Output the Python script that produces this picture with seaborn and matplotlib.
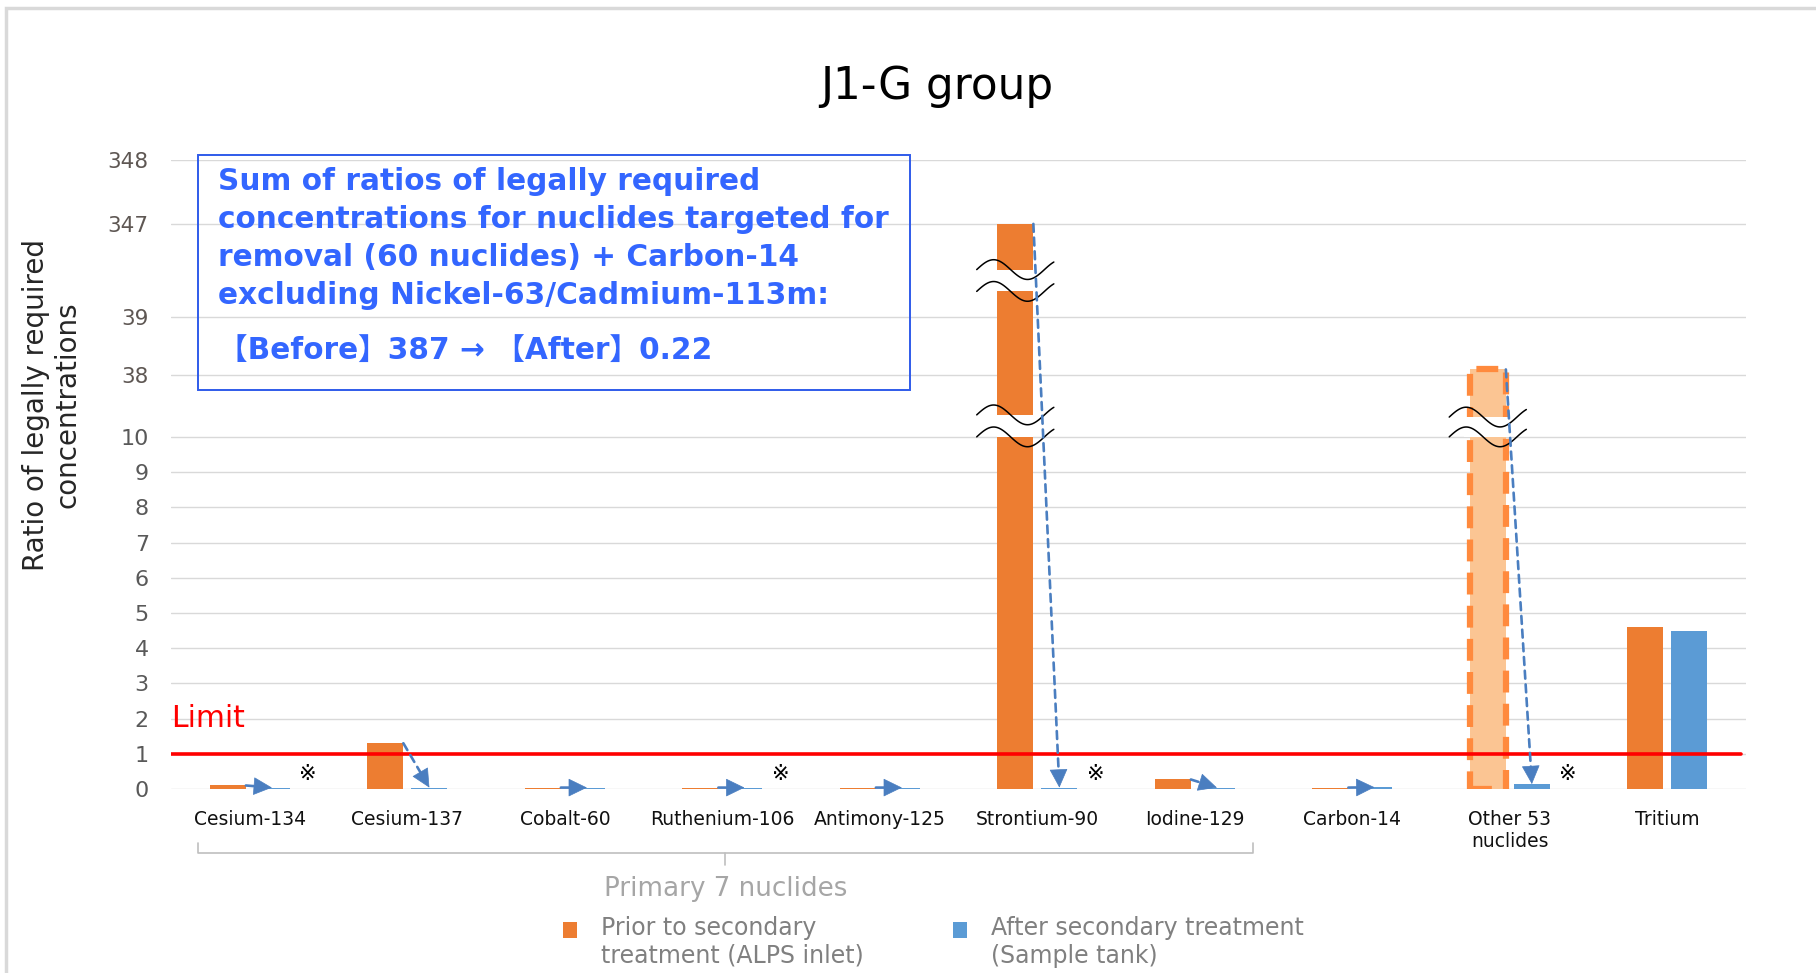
import numpy as np
import pandas as pd
import matplotlib
matplotlib.use('Agg')
import matplotlib.pyplot as plt
from matplotlib.patches import Rectangle
import seaborn as sns

nuclides = ['Cesium-134', 'Cesium-137', 'Cobalt-60', 'Ruthenium-106', 'Antimony-125',
            'Strontium-90', 'Iodine-129', 'Carbon-14', 'Other 53\nnuclides', 'Tritium']
before = [0.10, 1.30, 0.04, 0.04, 0.04, 346.8, 0.27, 0.04, 38.1, 4.6]
after = [0.04, 0.04, 0.04, 0.04, 0.04, 0.04, 0.04, 0.05, 0.14, 4.5]
stages = ['Prior to secondary\ntreatment (ALPS inlet)', 'After secondary treatment\n(Sample tank)']
colors = ['#ED7D31', '#5B9BD5']

# broken y axis: value -> position on the drawn axis
axis_values = [0, 10, 38, 39, 347, 348]
axis_pos = [0, 10, 11.75, 13.4, 16.05, 17.85]
yticks = list(range(11)) + [38, 39, 347, 348]

limit = 1
breaks = {'Strontium-90': [(124, 196), (10, 20)], 'Other 53\nnuclides': [(10, 19)]}
note_marks = ['Cesium-134', 'Ruthenium-106', 'Strontium-90', 'Other 53\nnuclides']
primary_group = nuclides[:7]
highlight = 'Other 53\nnuclides'

box_lines = ['Sum of ratios of legally required',
             'concentrations for nuclides targeted for',
             'removal (60 nuclides) + Carbon-14',
             'excluding Nickel-63/Cadmium-113m:']
box_result = '【Before】387 → 【After】0.22'


def fwd(v):
    return np.interp(v, axis_values, axis_pos)


def inv(p):
    return np.interp(p, axis_pos, axis_values)


sns.set_style('white')
plt.rcParams['font.family'] = ['DejaVu Sans', 'Noto Sans CJK JP']

df = pd.DataFrame({
    'nuclide': nuclides * 2,
    'stage': [stages[0]] * len(nuclides) + [stages[1]] * len(nuclides),
    'ratio': before + after,
})

fig = plt.figure(figsize=(18.16, 9.73), dpi=100)
ax = fig.add_axes([0.0942, 0.1891, 0.8673, 0.646])

sns.barplot(data=df, x='nuclide', y='ratio', hue='stage', order=nuclides, hue_order=stages,
            palette=colors, saturation=1, width=0.56, gap=0.18, linewidth=0,
            legend=False, ax=ax, zorder=2)

ax.set_yscale('function', functions=(fwd, inv))
ax.set_ylim(0, 348)
ax.set_xlim(-0.5, len(nuclides) - 0.5)
ax.set_yticks(yticks)
ax.set_yticklabels([str(t) for t in yticks])
ax.grid(axis='y', color='#D9D9D9', lw=1.0, zorder=0)
ax.set_axisbelow(True)
for s in ax.spines.values():
    s.set_visible(False)
ax.set_xlabel('')
ax.set_ylabel('')
ax.tick_params(axis='x', length=0, labelsize=13.5, pad=15, labelcolor='#111111')
ax.tick_params(axis='y', length=0, labelsize=16, pad=16, labelcolor='#595959')
for lab, t in zip(ax.get_yticklabels(), yticks):
    if t > 10:
        lab.set_color('#5E5753')
        lab.set_fontsize(15.5)

# highlighted bar
hb = ax.containers[0][nuclides.index(highlight)]
hb.set_facecolor('#FBC593')
hb.set_edgecolor('#FF8A3D')
hb.set_linewidth(4.5)
hb.set_linestyle((0, (3.5, 1.8)))

# limit line
ax.axhline(limit, xmin=0, xmax=0.997, color='#FF0000', lw=2.6, zorder=3)
ax.text(-0.5, 2.0, 'Limit', color='#FF0000', fontsize=21.5, va='center', ha='left')

# broken bars
for name, bands in breaks.items():
    i = nuclides.index(name)
    bar = ax.containers[0][i]
    x0, w = bar.get_x(), bar.get_width()
    pad = 0.035 if name == highlight else 0.0
    for lo, hi in bands:
        ax.add_patch(Rectangle((x0 - pad, lo), w + 2 * pad, hi - lo, facecolor='white',
                               lw=0, zorder=3))
        xs = np.linspace(x0 - 0.13, x0 + w + 0.13, 120)
        for c in (fwd(lo), fwd(hi)):
            ys = inv(c + 0.28 * np.sin(2 * np.pi * (xs - xs[0]) / 0.43))
            ax.plot(xs, ys, color='black', lw=1.1, zorder=4)

# arrows before -> after: dashed shaft + solid head
arrow_color = '#4A7EC0'
head_px = 17
for i in range(len(nuclides) - 1):
    b = ax.containers[0][i]
    a = ax.containers[1][i]
    start = (b.get_x() + b.get_width(), before[i])
    end = (a.get_x() + a.get_width() / 2, after[i])
    p0 = ax.transData.transform(start)
    p1 = ax.transData.transform(end)
    d = (p1 - p0) / np.hypot(*(p1 - p0))
    ax.annotate('', xy=end, xytext=start,
                arrowprops=dict(arrowstyle='-', color=arrow_color, lw=1.9,
                                linestyle=(0, (3, 2.2)), shrinkA=0,
                                shrinkB=head_px * 0.72 - 1),
                zorder=5)
    ax.annotate('', xy=end, xytext=(-d[0] * head_px, -d[1] * head_px),
                textcoords='offset pixels',
                arrowprops=dict(arrowstyle='-|>,head_length=0.41,head_width=0.2',
                                color=arrow_color, lw=0.5, shrinkA=0, shrinkB=0,
                                mutation_scale=30),
                zorder=5)

# reference marks
for name in note_marks:
    i = nuclides.index(name)
    ax.text(i + 0.37, 0.42, '※', fontsize=15, ha='center', va='center', color='black')

# primary nuclides bracket
tr = ax.get_xaxis_transform()
gx0 = nuclides.index(primary_group[0]) - 0.33
gx1 = nuclides.index(primary_group[-1]) + 0.37
gxc = (gx0 + gx1) / 2
ax.plot([gx0, gx0, gx1, gx1], [-0.086, -0.102, -0.102, -0.086], color='#BFBFBF', lw=1.2,
        transform=tr, clip_on=False, solid_joinstyle='round')
ax.plot([gxc, gxc], [-0.102, -0.121], color='#BFBFBF', lw=1.2, transform=tr, clip_on=False)
ax.text(gxc, -0.159, 'Primary 7 nuclides', transform=tr, ha='center', va='center',
        fontsize=18.8, color='#A6A6A6')

# title and axis label
fig.text(0.516, 0.9106, 'J1-G group', fontsize=31.5, ha='center', va='center', color='black')
fig.text(52 / 1816, 1 - 405 / 973, 'Ratio of legally required\nconcentrations', rotation=90,
         ha='center', va='center', fontsize=20, color='#262626', linespacing=1.15)

# summary box
fig.add_artist(Rectangle((198 / 1816, 1 - 390 / 973), 712 / 1816, 235 / 973,
                         transform=fig.transFigure, fill=False, edgecolor='#2F5BEA', lw=1.4))
for k, line in enumerate(box_lines):
    fig.text(218 / 1816, 1 - (181 + 38.3 * k) / 973, line, fontsize=21.3, fontweight='bold',
             color='#3366FF', ha='left', va='center')
fig.text(218 / 1816, 1 - 350 / 973, box_result, fontsize=21.3, fontweight='bold',
         color='#3366FF', ha='left', va='center')

# legend
for k, (lab, col) in enumerate(zip(stages, colors)):
    sx = [570, 960][k]
    fig.add_artist(Rectangle(((sx - 7) / 1816, 1 - 938 / 973), 14 / 1816, 16 / 973,
                             transform=fig.transFigure, facecolor=col, lw=0))
    fig.text((sx + 31) / 1816, 1 - 916 / 973, lab, fontsize=17, color='#808080',
             ha='left', va='top', linespacing=1.2)

# outer frame
fig.add_artist(Rectangle((6 / 1816, -1), 5, 2 - 8 / 973, transform=fig.transFigure,
                         fill=False, edgecolor='#D9D9D9', lw=2.5))

fig.savefig('out.png', dpi=100)
